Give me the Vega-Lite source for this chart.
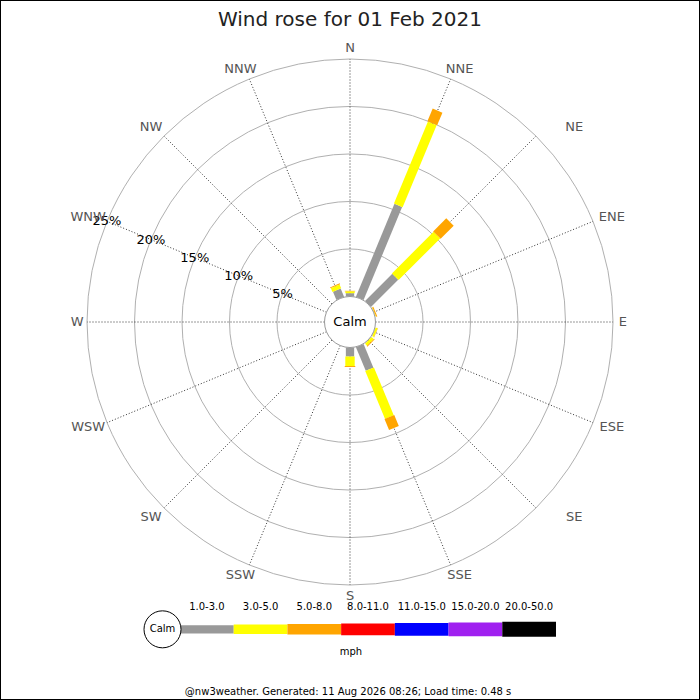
{
  "$schema": "https://vega.github.io/schema/vega-lite/v6.json",
  "width": 700,
  "height": 700,
  "autosize": "none",
  "padding": 0,
  "background": "white",
  "title": {
    "text": "Wind rose for 01 Feb 2021",
    "font": "DejaVu Sans",
    "fontSize": 20,
    "fontWeight": "normal",
    "color": "#222222",
    "anchor": "middle",
    "frame": "group",
    "offset": -30
  },
  "config": {
    "view": {"stroke": "black", "strokeWidth": 2},
    "text": {"font": "DejaVu Sans"}
  },
  "datasets": {
    "dirs": [
      {"dir": "N", "deg": 0}, {"dir": "NNE", "deg": 22.5}, {"dir": "NE", "deg": 45}, {"dir": "ENE", "deg": 67.5},
      {"dir": "E", "deg": 90}, {"dir": "ESE", "deg": 112.5}, {"dir": "SE", "deg": 135}, {"dir": "SSE", "deg": 157.5},
      {"dir": "S", "deg": 180}, {"dir": "SSW", "deg": 202.5}, {"dir": "SW", "deg": 225}, {"dir": "WSW", "deg": 247.5},
      {"dir": "W", "deg": 270}, {"dir": "WNW", "deg": 292.5}, {"dir": "NW", "deg": 315}, {"dir": "NNW", "deg": 337.5}
    ],
    "rings": [
      {"pct": 0, "label": "Calm"},
      {"pct": 5, "label": "5%"},
      {"pct": 10, "label": "10%"},
      {"pct": 15, "label": "15%"},
      {"pct": 20, "label": "20%"},
      {"pct": 25, "label": "25%"}
    ],
    "bars": [
      {"dir": "N", "deg": 0, "speed": "1.0-3.0", "pct": 0.35},
      {"dir": "N", "deg": 0, "speed": "3.0-5.0", "pct": 0.2},
      {"dir": "N", "deg": 0, "speed": "5.0-8.0", "pct": 0.05},
      {"dir": "NNE", "deg": 22.5, "speed": "1.0-3.0", "pct": 10.6},
      {"dir": "NNE", "deg": 22.5, "speed": "3.0-5.0", "pct": 9.35},
      {"dir": "NNE", "deg": 22.5, "speed": "5.0-8.0", "pct": 1.45},
      {"dir": "NE", "deg": 45, "speed": "1.0-3.0", "pct": 4.05},
      {"dir": "NE", "deg": 45, "speed": "3.0-5.0", "pct": 6.2},
      {"dir": "NE", "deg": 45, "speed": "5.0-8.0", "pct": 1.95},
      {"dir": "ENE", "deg": 67.5, "speed": "1.0-3.0", "pct": 0.03},
      {"dir": "ENE", "deg": 67.5, "speed": "3.0-5.0", "pct": 0.05},
      {"dir": "ENE", "deg": 67.5, "speed": "5.0-8.0", "pct": 0.12},
      {"dir": "ESE", "deg": 112.5, "speed": "1.0-3.0", "pct": 0.05},
      {"dir": "ESE", "deg": 112.5, "speed": "3.0-5.0", "pct": 0.2},
      {"dir": "ESE", "deg": 112.5, "speed": "5.0-8.0", "pct": 0.03},
      {"dir": "SE", "deg": 135, "speed": "1.0-3.0", "pct": 0.05},
      {"dir": "SE", "deg": 135, "speed": "3.0-5.0", "pct": 0.3},
      {"dir": "SE", "deg": 135, "speed": "5.0-8.0", "pct": 0.1},
      {"dir": "SSE", "deg": 157.5, "speed": "1.0-3.0", "pct": 2.7},
      {"dir": "SSE", "deg": 157.5, "speed": "3.0-5.0", "pct": 5.45},
      {"dir": "SSE", "deg": 157.5, "speed": "5.0-8.0", "pct": 1.25},
      {"dir": "S", "deg": 180, "speed": "1.0-3.0", "pct": 0.95},
      {"dir": "S", "deg": 180, "speed": "3.0-5.0", "pct": 1.0},
      {"dir": "S", "deg": 180, "speed": "5.0-8.0", "pct": 0.1},
      {"dir": "NNW", "deg": 337.5, "speed": "1.0-3.0", "pct": 0.95},
      {"dir": "NNW", "deg": 337.5, "speed": "3.0-5.0", "pct": 0.43},
      {"dir": "NNW", "deg": 337.5, "speed": "5.0-8.0", "pct": 0.11}
    ],
    "bins": [
      {"speed": "1.0-3.0"}, {"speed": "3.0-5.0"}, {"speed": "5.0-8.0"}, {"speed": "8.0-11.0"},
      {"speed": "11.0-15.0"}, {"speed": "15.0-20.0"}, {"speed": "20.0-50.0"}
    ],
    "notes": [
      {"key": "unit", "text": "mph"},
      {"key": "footer", "text": "@nw3weather. Generated: 11 Aug 2026 08:26; Load time: 0.48 s"}
    ]
  },
  "resolve": {"scale": {"x": "independent"}},
  "layer": [
    {
      "layer": [
        {
          "data": {"name": "rings"},
          "transform": [{"filter": "datum.pct > 0"}, {"calculate": "2.684 + datum.pct", "as": "r"}],
          "mark": {"type": "point", "shape": "circle", "filled": false, "stroke": "#b0b0b0", "strokeWidth": 1, "opacity": 1},
          "encoding": {
            "x": {"datum": 0, "type": "quantitative", "scale": {"domain": [-36.842, 36.842], "nice": false, "zero": false}, "axis": null},
            "y": {"datum": 0, "type": "quantitative", "scale": {"domain": [-39.789, 33.895], "nice": false, "zero": false}, "axis": null},
            "size": {"field": "r", "type": "quantitative", "scale": {"type": "pow", "exponent": 2, "domain": [0, 27.684], "range": [0, 276676]}, "legend": null}
          }
        },
        {
          "data": {"name": "dirs"},
          "transform": [
            {"calculate": "datum.deg * PI / 180", "as": "rad"},
            {"calculate": "2.684 * sin(datum.rad)", "as": "x0"},
            {"calculate": "2.684 * cos(datum.rad)", "as": "y0"},
            {"calculate": "27.684 * sin(datum.rad)", "as": "x1"},
            {"calculate": "27.684 * cos(datum.rad)", "as": "y1"}
          ],
          "mark": {"type": "rule", "color": "#333333", "strokeWidth": 1, "strokeDash": [1, 2]},
          "encoding": {
            "x": {"field": "x0", "type": "quantitative"},
            "y": {"field": "y0", "type": "quantitative"},
            "x2": {"field": "x1"},
            "y2": {"field": "y1"}
          }
        },
        {
          "data": {"name": "bars"},
          "transform": [
            {"window": [{"op": "sum", "field": "pct", "as": "cum"}], "groupby": ["dir"], "sort": [{"field": "speed", "order": "ascending"}], "frame": [null, 0]},
            {"calculate": "datum.deg * PI / 180", "as": "rad"},
            {"calculate": "2.684 + datum.cum - datum.pct", "as": "r0"},
            {"calculate": "2.684 + datum.cum", "as": "r1"},
            {"calculate": "datum.r0 * sin(datum.rad)", "as": "x0"},
            {"calculate": "datum.r0 * cos(datum.rad)", "as": "y0"},
            {"calculate": "datum.r1 * sin(datum.rad)", "as": "x1"},
            {"calculate": "datum.r1 * cos(datum.rad)", "as": "y1"}
          ],
          "mark": {"type": "rule", "strokeCap": "butt"},
          "encoding": {
            "x": {"field": "x0", "type": "quantitative"},
            "y": {"field": "y0", "type": "quantitative"},
            "x2": {"field": "x1"},
            "y2": {"field": "y1"},
            "color": {
              "field": "speed", "type": "ordinal",
              "scale": {"domain": ["1.0-3.0", "3.0-5.0", "5.0-8.0", "8.0-11.0", "11.0-15.0", "15.0-20.0", "20.0-50.0"],
                        "range": ["#999999", "#ffff00", "#ffa500", "#ff0000", "#0000ff", "#a020f0", "#000000"]},
              "legend": null
            },
            "strokeWidth": {
              "field": "speed", "type": "ordinal",
              "scale": {"domain": ["1.0-3.0", "3.0-5.0", "5.0-8.0", "8.0-11.0", "11.0-15.0", "15.0-20.0", "20.0-50.0"],
                        "range": [8.3, 15, 20, 23, 25, 27, 29]},
              "legend": null
            }
          }
        },
        {
          "data": {"name": "rings"},
          "transform": [
            {"filter": "datum.pct > 0"},
            {"calculate": "(2.684 + datum.pct) * sin(292.5 * PI / 180)", "as": "lx"},
            {"calculate": "(2.684 + datum.pct) * cos(292.5 * PI / 180)", "as": "ly"}
          ],
          "mark": {"type": "text", "fontSize": 13, "color": "#000000", "align": "center", "baseline": "middle"},
          "encoding": {
            "x": {"field": "lx", "type": "quantitative"},
            "y": {"field": "ly", "type": "quantitative"},
            "text": {"field": "label"}
          }
        },
        {
          "data": {"name": "dirs"},
          "transform": [
            {"calculate": "datum.deg * PI / 180", "as": "rad"},
            {"calculate": "(450 - datum.deg) % 360", "as": "a"},
            {"calculate": "datum.a == 45 || datum.a == 315 ? -1.35 : datum.a <= 45 || datum.a >= 315 ? 0 : datum.a <= 135 ? (datum.a - 45) / 90 : datum.a <= 225 ? 1 : 1 - (datum.a - 225) / 90", "as": "fx"},
            {"calculate": "datum.a <= 45 ? 0.5 + datum.a / 90 : datum.a <= 135 ? 1 : datum.a <= 225 ? 1 - (datum.a - 135) / 90 : datum.a < 315 ? 0 : (datum.a - 315) / 90", "as": "fy"},
            {"calculate": "length(datum.dir) * 0.98", "as": "w"},
            {"calculate": "28.24 * sin(datum.rad) + (0.5 - datum.fx) * datum.w", "as": "lx"},
            {"calculate": "28.24 * cos(datum.rad) + (datum.fy - 0.5) * 1.1", "as": "ly"}
          ],
          "mark": {"type": "text", "fontSize": 13, "color": "#555555", "align": "center", "baseline": "middle"},
          "encoding": {
            "x": {"field": "lx", "type": "quantitative"},
            "y": {"field": "ly", "type": "quantitative"},
            "text": {"field": "dir"}
          }
        },
        {
          "data": {"name": "rings"},
          "transform": [{"filter": "datum.pct == 0"}, {"calculate": "2.684 + datum.pct", "as": "r"}],
          "mark": {"type": "point", "shape": "circle", "filled": true, "fill": "white", "stroke": "#999999", "strokeWidth": 1, "opacity": 1},
          "encoding": {
            "x": {"datum": 0, "type": "quantitative"},
            "y": {"datum": 0, "type": "quantitative"},
            "size": {"field": "r", "type": "quantitative", "scale": {"type": "pow", "exponent": 2, "domain": [0, 27.684], "range": [0, 276676]}, "legend": null}
          }
        },
        {
          "data": {"name": "rings"},
          "transform": [{"filter": "datum.pct == 0"}],
          "mark": {"type": "text", "fontSize": 13, "color": "#000000", "align": "center", "baseline": "middle"},
          "encoding": {
            "x": {"datum": 0, "type": "quantitative"},
            "y": {"datum": 0, "type": "quantitative"},
            "text": {"field": "label"}
          }
        },
        {
          "data": {"name": "notes"},
          "transform": [{"filter": "datum.key == 'unit'"}],
          "mark": {"type": "text", "fontSize": 10, "color": "#000000", "align": "center", "baseline": "alphabetic"},
          "encoding": {
            "x": {"datum": 0.1, "type": "quantitative"},
            "y": {"datum": -35.05, "type": "quantitative"},
            "text": {"field": "text"}
          }
        },
        {
          "data": {"name": "notes"},
          "transform": [{"filter": "datum.key == 'footer'"}],
          "mark": {"type": "text", "fontSize": 10, "color": "#000000", "align": "center", "baseline": "alphabetic"},
          "encoding": {
            "x": {"datum": -0.2, "type": "quantitative"},
            "y": {"datum": -39.26, "type": "quantitative"},
            "text": {"field": "text"}
          }
        }
      ]
    },
    {
      "layer": [
        {
          "data": {"name": "bins"},
          "mark": {"type": "rule", "strokeCap": "butt"},
          "encoding": {
            "x": {"field": "speed", "type": "ordinal", "bandPosition": 0,
                  "scale": {"type": "band", "domain": ["1.0-3.0", "3.0-5.0", "5.0-8.0", "8.0-11.0", "11.0-15.0", "15.0-20.0", "20.0-50.0"], "range": [180, 556], "paddingInner": 0, "paddingOuter": 0},
                  "axis": null},
            "x2": {"field": "speed", "bandPosition": 1},
            "y": {"datum": -32.35, "type": "quantitative", "scale": {"domain": [-39.789, 33.895], "nice": false, "zero": false}, "axis": null},
            "color": {"field": "speed", "type": "ordinal", "legend": null},
            "strokeWidth": {"field": "speed", "type": "ordinal", "legend": null}
          }
        },
        {
          "data": {"name": "bins"},
          "mark": {"type": "text", "fontSize": 10, "color": "#000000", "align": "center", "baseline": "alphabetic"},
          "encoding": {
            "x": {"field": "speed", "type": "ordinal", "bandPosition": 0.5},
            "y": {"datum": -30.32, "type": "quantitative"},
            "text": {"field": "speed"}
          }
        },
        {
          "data": {"name": "bins"},
          "transform": [{"filter": "datum.speed == '1.0-3.0'"}],
          "mark": {"type": "point", "shape": "circle", "filled": true, "fill": "white", "stroke": "#000000", "strokeWidth": 1, "opacity": 1, "size": 1369, "xOffset": -17.5},
          "encoding": {
            "x": {"field": "speed", "type": "ordinal", "bandPosition": 0},
            "y": {"datum": -32.35, "type": "quantitative"}
          }
        },
        {
          "data": {"name": "bins"},
          "transform": [{"filter": "datum.speed == '1.0-3.0'"}],
          "mark": {"type": "text", "fontSize": 10, "color": "#000000", "align": "center", "baseline": "middle", "xOffset": -17.5},
          "encoding": {
            "x": {"field": "speed", "type": "ordinal", "bandPosition": 0},
            "y": {"datum": -32.35, "type": "quantitative"},
            "text": {"value": "Calm"}
          }
        }
      ]
    }
  ]
}
